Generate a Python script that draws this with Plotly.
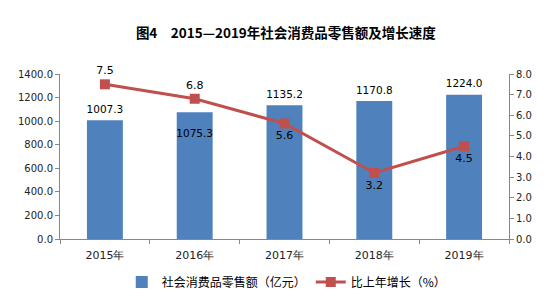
import plotly.graph_objects as go

years = ["2015年", "2016年", "2017年", "2018年", "2019年"]
sales = [1007.3, 1075.3, 1135.2, 1170.8, 1224.0]
growth = [7.5, 6.8, 5.6, 3.2, 4.5]
bar_label_pos = ["top center", "bottom center", "top center", "top center", "top center"]
line_label_pos = ["top center", "top center", "bottom center", "bottom center", "bottom center"]

tick_font = dict(family="DejaVu Sans", size=10, color="#222")
cjk = "Noto Sans CJK SC"

fig = go.Figure()
fig.add_trace(go.Bar(
    x=years, y=sales, name="社会消费品零售额（亿元）",
    marker=dict(color="#4F81BD", line=dict(width=0)),
    width=0.4,
))
# bar value labels
fig.add_trace(go.Scatter(
    x=years, y=sales, mode="markers+text", showlegend=False, hoverinfo="skip",
    marker=dict(size=[6, 26, 6, 6, 6], opacity=0),
    text=[f"{v:.1f}" for v in sales], textposition=bar_label_pos,
    textfont=dict(family="DejaVu Sans", size=10.5, color="#000"),
    cliponaxis=False,
))
fig.add_trace(go.Scatter(
    x=years, y=growth, name="比上年增长（%）", yaxis="y2",
    mode="lines+markers+text",
    line=dict(color="#C0504D", width=3),
    marker=dict(symbol="square", size=10, color="#C0504D"),
    text=[f"{v:.1f}" for v in growth], textposition=line_label_pos,
    textfont=dict(family="DejaVu Sans", size=11, color="#000"),
    cliponaxis=False,
))

fig.update_layout(
    width=554, height=303,
    margin=dict(l=60, r=45, t=74, b=64, autoexpand=False),
    paper_bgcolor="white", plot_bgcolor="white",
    title=dict(text="<b>图4　2015—2019年社会消费品零售额及增长速度</b>",
               x=0.516, xanchor="center", y=0.89, yanchor="middle",
               font=dict(family=cjk, size=13.5, color="#000")),
    showlegend=True,
    legend=dict(orientation="h", x=0.505, xanchor="center", y=-0.26, yanchor="middle",
                font=dict(family=cjk, size=12, color="#000"),
                itemwidth=30, tracegroupgap=0),
    bargap=0.6,
    xaxis=dict(type="category", showline=True, linecolor="#888", linewidth=1,
               ticks="outside", ticklen=4, tickcolor="#888", tickson="boundaries",
               ticklabelstandoff=6,
               tickfont=dict(family="DejaVu Sans", size=11, color="#222"),
               showgrid=False, zeroline=False),
    yaxis=dict(range=[0, 1400], dtick=200, tickformat=".1f", showline=True,
               linecolor="#888", linewidth=1, ticks="outside", ticklen=4, tickcolor="#888",
               tickfont=tick_font, showgrid=False, zeroline=False),
    yaxis2=dict(range=[0, 8], dtick=1, tickformat=".1f", overlaying="y", side="right",
                showline=True, linecolor="#888", linewidth=1, ticks="outside", ticklen=4,
                tickcolor="#888", tickfont=tick_font, showgrid=False, zeroline=False),
)

fig.write_html("out.html")
